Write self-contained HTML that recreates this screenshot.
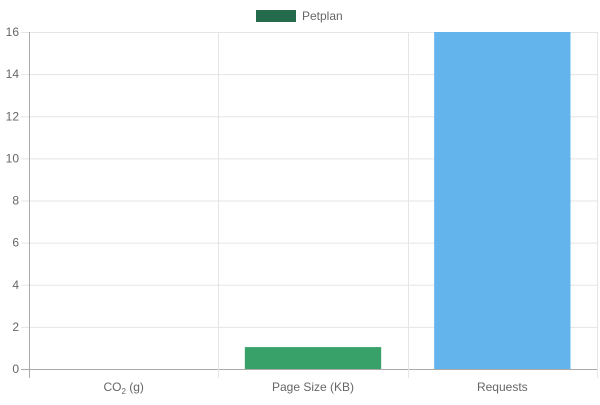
<!DOCTYPE html>
<html><head><meta charset="utf-8"><style>
body{margin:0;background:#fff;width:600px;height:400px;overflow:hidden}
text{font-family:"Liberation Sans",sans-serif;font-size:12px;fill:#666}
</style></head><body>
<svg id="chart" width="600" height="400" xmlns="http://www.w3.org/2000/svg">
<g id="legend">
<rect x="256" y="10" width="40" height="12" fill="#236b4a"/>
<text x="302" y="20">Petplan</text>
</g>
<g id="grid"></g><g id="bars"></g><g id="labels"></g>
</svg>
<script>
const categories = ["CO2 (g)", "Page Size (KB)", "Requests"];
const values = [0, 1.04, 16];
const colors = ["#e05d5d", "#38a169", "#63b3ed"];
const yTicks = [0, 2, 4, 6, 8, 10, 12, 14, 16];
const X0 = 29, X1 = 597, Y0 = 369, Y1 = 32, YMAX = 16;
const NS = "http://www.w3.org/2000/svg";
const yScale = v => Y0 - (v / YMAX) * (Y0 - Y1);
const band = (X1 - X0) / categories.length;
const xScale = i => X0 + i * band;
function mk(tag, attrs, parent) { const e = document.createElementNS(NS, tag); for (const k in attrs) e.setAttribute(k, attrs[k]); parent.appendChild(e); return e; }
const grid = document.getElementById('grid'), bars = document.getElementById('bars'), labels = document.getElementById('labels');
yTicks.forEach(t => {
  const y = yScale(t) + 0.5;
  const l = mk('line', {x1: X0 - 8, x2: X1, y1: y, y2: y, stroke: t === 0 ? '#aaa' : '#e5e5e5'}, grid);
  
  
  const tx = mk('text', {x: 19, y: yScale(t) + 4, 'text-anchor': 'end'}, labels);
  tx.textContent = t;
  
  
});
for (let i = 0; i <= categories.length; i++) {
  const x = Math.round(xScale(i)) + 0.5;
  const l = mk('line', {x1: x, x2: x, y1: Y1, y2: Y0 + 9, stroke: i === 0 ? '#aaa' : '#e5e5e5'}, grid);
  
  
}
categories.forEach((c, i) => {
  const bw = band * 0.72;
  const x = xScale(i) + (band - bw) / 2;
  const y = yScale(values[i]);
  const r = mk('rect', {x: x, y: y, width: bw, height: Y0 - y, fill: colors[i]}, bars);
  
  
  const tx = mk('text', {x: xScale(i) + band / 2, y: 391, 'text-anchor': 'middle'}, labels);
  if (c.startsWith('CO2')) {
    tx.appendChild(document.createTextNode('CO'));
    const s = mk('tspan', {'font-size': '8', dy: '3'}, tx); s.textContent = '2';
    const s2 = mk('tspan', {dy: '-3'}, tx); s2.textContent = ' (g)';
  } else tx.textContent = c;
  
  
});
</script>
</body></html>
